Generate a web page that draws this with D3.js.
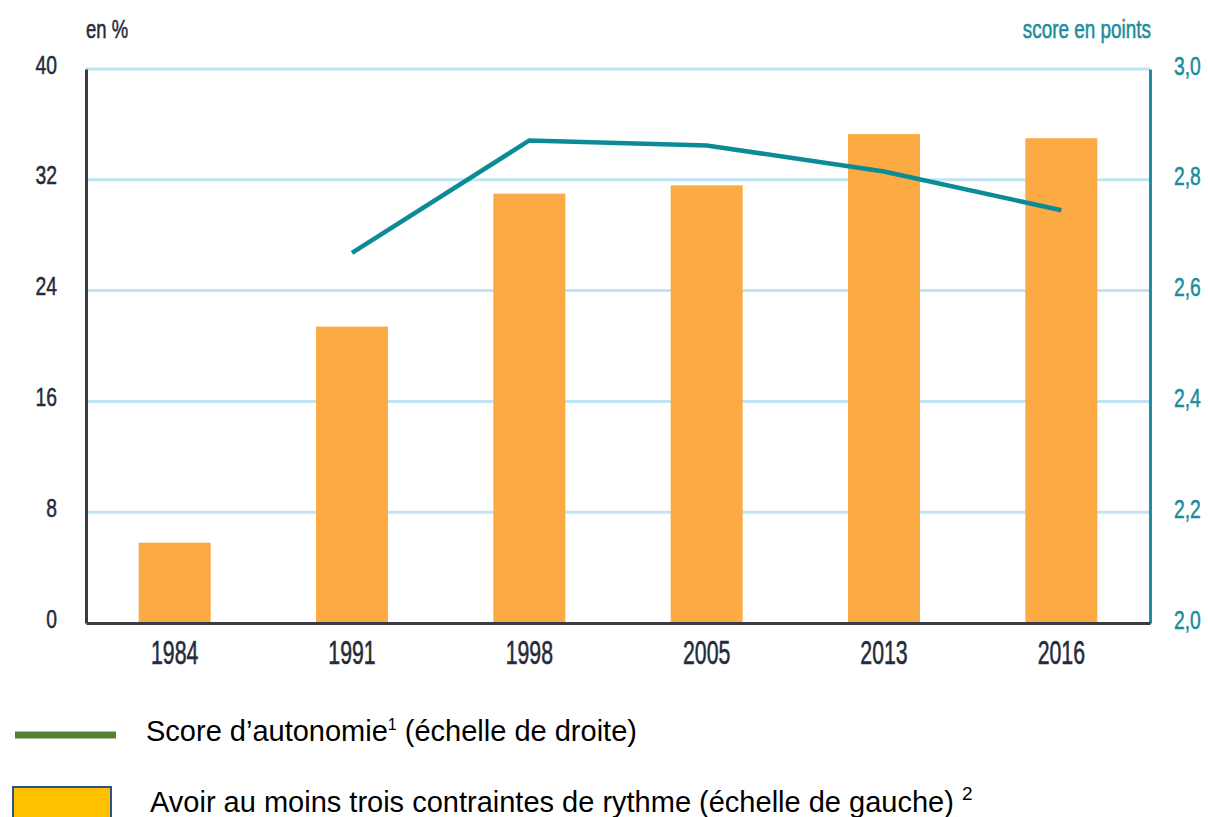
<!DOCTYPE html>
<html>
<head>
<meta charset="utf-8">
<script src="https://cdn.jsdelivr.net/npm/d3@7"></script>
<style>
  body { margin: 0; background: #fff; }
  svg { display: block; }
</style>
</head>
<body>
<div id="chart"></div>
<script>
// data
var years = ["1984", "1991", "1998", "2005", "2013", "2016"];
var contraintes = [5.8, 21.4, 31.0, 31.6, 35.3, 35.0];     // % (left scale)
var scoreYears = ["1991", "1998", "2005", "2013", "2016"];
var score = [2.668, 2.871, 2.862, 2.815, 2.745];           // points (right scale)
var leftTicks = [0, 8, 16, 24, 32, 40];
var rightTicks = [2.0, 2.2, 2.4, 2.6, 2.8, 3.0];

var W = 1208, H = 817;
var margin = {top: 69, right: 58, bottom: 194, left: 86};
var width = W - margin.left - margin.right,
    height = H - margin.top - margin.bottom;

// no condensed font installed, so squeeze Liberation Sans with a transform
var cond = "'Liberation Sans', Arial, sans-serif";
var darkTxt = "#262a3a", teal = "#0b8b95", tealTxt = "#1a8c9c";

var svg = d3.select("#chart").append("svg")
    .attr("width", W)
    .attr("height", H);

var g = svg.append("g")
    .attr("transform", "translate(" + margin.left + "," + margin.top + ")");

var x = d3.scaleBand()
    .domain(years)
    .range([0, width])
    .paddingInner(0.594)
    .paddingOuter(0.297);

var yL = d3.scaleLinear().domain([0, 40]).range([height, 0]);
var yR = d3.scaleLinear().domain([2.0, 3.0]).range([height, 0]);

function squeeze(sel, tx, ty, sx, sy, color, size) {
  sel.attr("x", 0).attr("y", 0).attr("dy", 0)
    .attr("font-family", cond)
    .attr("font-size", size)
    .attr("fill", color)
    .attr("stroke", color)
    .attr("stroke-width", 0.45)
    .attr("transform", "translate(" + tx + "," + ty + ") scale(" + sx + "," + sy + ")");
}

// gridlines
g.append("g")
  .selectAll("line")
  .data(leftTicks.filter(function(d) { return d > 0; }))
  .enter().append("line")
    .attr("x1", 0)
    .attr("x2", width)
    .attr("y1", function(d) { return yL(d); })
    .attr("y2", function(d) { return yL(d); })
    .attr("stroke", "#bfe5f5")
    .attr("stroke-width", 3);

// bars
g.selectAll(".bar")
  .data(contraintes)
  .enter().append("rect")
    .attr("class", "bar")
    .attr("x", function(d, i) { return x(years[i]); })
    .attr("width", x.bandwidth())
    .attr("y", function(d) { return yL(d); })
    .attr("height", function(d) { return height - yL(d); })
    .attr("fill", "#fcaa43");

// score line
var lineData = score.map(function(v, i) { return {year: scoreYears[i], v: v}; });
g.append("path")
    .datum(lineData)
    .attr("fill", "none")
    .attr("stroke", teal)
    .attr("stroke-width", 4.5)
    .attr("d", d3.line()
      .x(function(d) { return x(d.year) + x.bandwidth() / 2; })
      .y(function(d) { return yR(d.v); }));

// left axis
var axL = g.append("g").call(d3.axisLeft(yL).tickValues(leftTicks).tickSize(0).tickFormat(d3.format("d")));
axL.select(".domain").attr("stroke", "#3b3b45").attr("stroke-width", 3);
axL.selectAll("text").call(squeeze, -29, 4, 0.84, 1.12, darkTxt, 23);

// right axis
var axR = g.append("g")
    .attr("transform", "translate(" + width + ",0)")
    .call(d3.axisRight(yR).tickValues(rightTicks).tickSize(0)
      .tickFormat(function(d) { return d3.format(".1f")(d).replace(".", ","); }));
axR.select(".domain").attr("stroke", "#1d8f9f").attr("stroke-width", 3);
axR.selectAll("text").attr("text-anchor", "start")
    .call(squeeze, 24, 5, 0.84, 1.12, tealTxt, 23);

// bottom axis
var axB = g.append("g")
    .attr("transform", "translate(0," + height + ")")
    .call(d3.axisBottom(x).tickSize(0));
axB.select(".domain").attr("stroke", "#3b3b45").attr("stroke-width", 3);
axB.selectAll("text").call(squeeze, 0, 41, 0.82, 1.25, darkTxt, 26);

// axis titles
svg.append("text").text("en %")
    .call(squeeze, 86, 38, 0.84, 1.18, darkTxt, 22);
svg.append("text").text("score en points")
    .attr("text-anchor", "end")
    .call(squeeze, 1151, 38, 0.86, 1.18, tealTxt, 22);

// legend
var leg = svg.append("g").attr("font-family", "'Liberation Sans', Arial, sans-serif").attr("fill", "#000");
leg.append("line")
    .attr("x1", 15).attr("x2", 116)
    .attr("y1", 735).attr("y2", 735)
    .attr("stroke", "#548235")
    .attr("stroke-width", 7);
var t1 = leg.append("text")
    .attr("x", 146).attr("y", 741)
    .attr("font-size", 29);
t1.append("tspan").text("Score d\u2019autonomie");
t1.append("tspan").attr("font-size", 16).attr("dy", -11).text("1");
t1.append("tspan").attr("dy", 11).text(" (\u00e9chelle de droite)");

leg.append("rect")
    .attr("x", 13).attr("y", 787)
    .attr("width", 98).attr("height", 40)
    .attr("fill", "#ffc000")
    .attr("stroke", "#2f528f")
    .attr("stroke-width", 2);
var t2 = leg.append("text")
    .attr("x", 150).attr("y", 812)
    .attr("font-size", 29);
t2.append("tspan").text("Avoir au moins trois contraintes de rythme (\u00e9chelle de gauche) ");
t2.append("tspan").attr("font-size", 19).attr("dy", -12).text("2");
</script>
</body>
</html>
